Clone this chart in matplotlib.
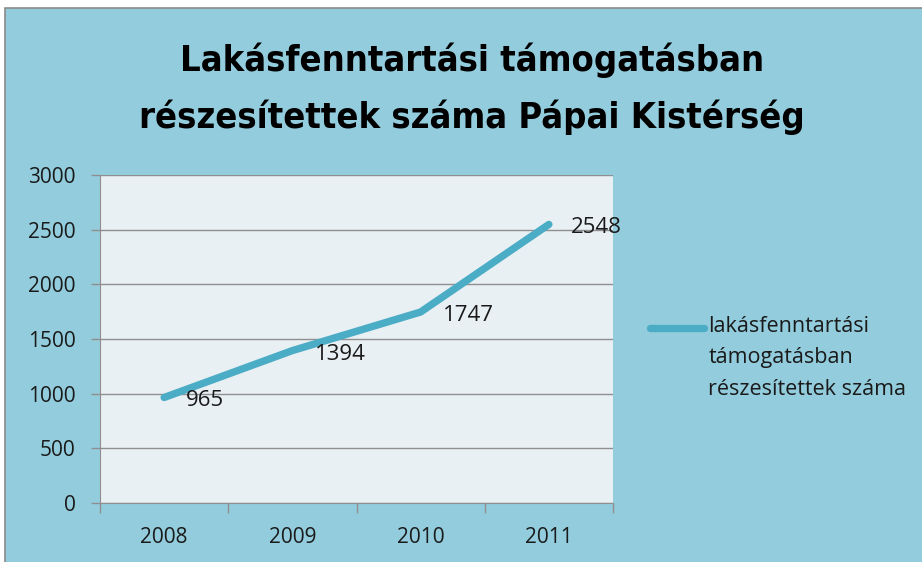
import matplotlib
matplotlib.use("Agg")
import matplotlib.pyplot as plt
from matplotlib import font_manager
from matplotlib.patches import Rectangle
from matplotlib.ticker import FixedLocator

years = ["2008", "2009", "2010", "2011"]
values = [965, 1394, 1747, 2548]
series_name = "lakásfenntartási\ntámogatásban\nrészesítettek száma"
title = "Lakásfenntartási támogatásban\nrészesítettek száma Pápai Kistérség"

BG = "#93cddd"
PLOT_BG = "#e8f0f4"
LINE = "#4bacc6"
GRID = "#8f8f8f"
TEXT = "#1a1a1a"

names = {f.name for f in font_manager.fontManager.ttflist}
body_font = next((n for n in ["Open Sans", "Lato", "DejaVu Sans"] if n in names), "DejaVu Sans")
plt.rcParams["font.family"] = body_font

fig = plt.figure(figsize=(9.22, 5.62), dpi=100, facecolor="white")
# chart area box with grey border, running off the right and bottom edges
fig.patches.append(Rectangle((5 / 922, -0.05), 1.1, 1 - 8 / 562 + 0.05,
                             transform=fig.transFigure, facecolor=BG,
                             edgecolor="#8a8a8a", linewidth=1.2, zorder=-1))

ax = fig.add_axes([100 / 922, 1 - 503 / 562, 513 / 922, 328 / 562])
ax.set_facecolor(PLOT_BG)
x = list(range(len(years)))
ax.plot(x, values, color=LINE, linewidth=5.3, solid_capstyle="round",
        label=series_name, zorder=3)
for xi, v in zip(x, values):
    ax.annotate(str(v), (xi, v), xytext=(16, -2.5), textcoords="offset points",
                ha="left", va="center", fontsize=16, color=TEXT, zorder=4,
                annotation_clip=False)

ax.set_xlim(-0.5, 3.5)
ax.set_ylim(0, 3000)
ax.set_yticks(range(0, 3001, 500))
ax.grid(True, axis="y", color=GRID, linewidth=1)
ax.set_axisbelow(True)
ax.set_xticks(x)
ax.set_xticklabels(years)
ax.xaxis.set_minor_locator(FixedLocator([-0.5, 0.5, 1.5, 2.5, 3.5]))
ax.tick_params(axis="x", which="major", length=0, pad=17.5, labelsize=15,
               labelcolor=TEXT)
ax.tick_params(axis="x", which="minor", length=7, color=GRID, width=1)
ax.tick_params(axis="y", length=6.5, color=GRID, width=1, pad=11,
               labelsize=15, labelcolor=TEXT)
for side in ["top", "right"]:
    ax.spines[side].set_visible(False)
for side in ["left", "bottom"]:
    ax.spines[side].set_color(GRID)

fig.text(472 / 922, 1 - 89 / 562, title, ha="center", va="center",
         fontsize=26, fontweight="bold", family="DejaVu Sans",
         fontstretch="condensed", linespacing=1.75)

leg = ax.legend(loc="upper left", bbox_to_anchor=(650 / 922, 1 - 316 / 562),
                bbox_transform=fig.transFigure, frameon=False, fontsize=15.5,
                handlelength=2.5, handletextpad=0.2, borderaxespad=0,
                borderpad=0)
for t in leg.get_texts():
    t.set_linespacing(1.65)
    t.set_color(TEXT)
# Excel puts the legend key beside the first line of a wrapped label
handle = leg.get_lines()[0]
handle.set_solid_capstyle("round")
handle.set_ydata([y + 22 for y in handle.get_ydata()])

fig.savefig("out.png", dpi=100, facecolor="white")
